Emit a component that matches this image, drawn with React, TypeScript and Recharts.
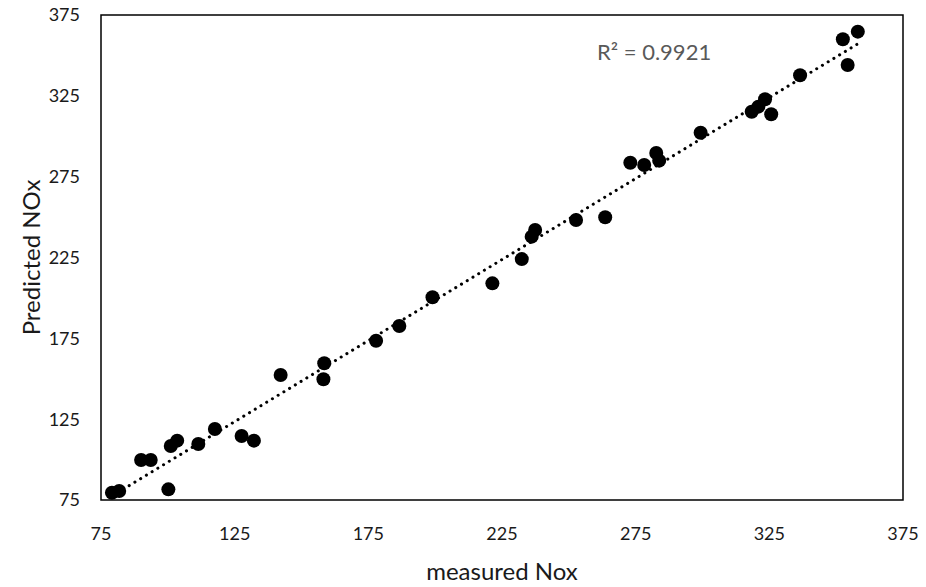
import { ScatterChart, Scatter, XAxis, YAxis, ReferenceArea, ReferenceLine } from "recharts"

const measured = [
  79.1, 81.8, 90.0, 93.6, 100.2, 101.1, 103.5, 111.4, 117.6, 127.6, 132.2, 142.2,
  158.2, 158.5, 177.9, 186.6, 199.0, 221.4, 232.4, 236.1, 237.4, 252.7, 263.6, 273.0,
  278.2, 282.7, 283.8, 299.3, 318.4, 320.9, 323.4, 325.7, 336.5, 352.5, 358.1, 354.3,
]
const predicted = [
  79.5, 80.6, 99.7, 99.7, 81.6, 108.4, 111.7, 109.6, 118.9, 114.6, 111.7, 152.3,
  149.7, 159.6, 173.5, 182.6, 200.4, 209.0, 224.0, 237.9, 242.0, 248.2, 249.9, 283.6,
  282.2, 289.6, 284.9, 302.2, 315.2, 318.3, 322.9, 313.6, 337.7, 360.0, 364.7, 344.1,
]
const ticks = [75, 125, 175, 225, 275, 325, 375]
const r2Label = "R² = 0.9921"

const points = measured.map((x, i) => ({ x, y: predicted[i] }))

// linear trendline (least squares)
const n = measured.length
const mx = measured.reduce((a, b) => a + b, 0) / n
const my = predicted.reduce((a, b) => a + b, 0) / n
let sxy = 0
let sxx = 0
measured.forEach((x, i) => {
  sxy += (x - mx) * (predicted[i] - my)
  sxx += (x - mx) * (x - mx)
})
const slope = sxy / sxx
const intercept = my - slope * mx
const xMin = Math.min(...measured)
const xMax = Math.max(...measured)

const font = "Lato, 'Open Sans', sans-serif"
const textColor = "#1a1a1a"
const tickStyle = { fill: textColor, fontSize: 18, fontFamily: font }

const Dot = (props: any) => <circle cx={props.cx} cy={props.cy} r={7} fill="#000" />

const XLabel = ({ viewBox }: any) => (
  <text
    x={viewBox.x + viewBox.width / 2}
    y={viewBox.y + 80}
    textAnchor="middle"
    fill={textColor}
    fontSize={24}
    fontFamily={font}
  >
    measured Nox
  </text>
)

const YLabel = ({ viewBox }: any) => {
  const cx = viewBox.x + 30
  const cy = viewBox.y + viewBox.height / 2
  return (
    <text
      x={cx}
      y={cy}
      transform={`rotate(-90 ${cx} ${cy})`}
      textAnchor="middle"
      dominantBaseline="central"
      fill={textColor}
      fontSize={24}
      fontFamily={font}
    >
      Predicted NOx
    </text>
  )
}

export default function App() {
  return (
    <div style={{ position: "absolute", left: 0, top: 0, width: 926, height: 587, background: "#fff" }}>
      <ScatterChart width={926} height={587} margin={{ top: 15, right: 23, bottom: 0, left: 0 }}>
        <XAxis
          type="number"
          dataKey="x"
          domain={[75, 375]}
          ticks={ticks}
          allowDataOverflow
          axisLine={false}
          tickLine={false}
          tickSize={0}
          tickMargin={27}
          height={87}
          tick={tickStyle}
          label={{ content: XLabel }}
        />
        <YAxis
          type="number"
          dataKey="y"
          domain={[75, 375]}
          ticks={ticks}
          allowDataOverflow
          axisLine={false}
          tickLine={false}
          tickSize={0}
          tickMargin={21}
          width={101}
          tick={tickStyle}
          label={{ content: YLabel }}
        />
        <ReferenceArea x1={75} x2={375} y1={75} y2={375} fill="none" stroke="#000" strokeWidth={1.5} />
        <ReferenceLine
          segment={[
            { x: xMin, y: slope * xMin + intercept },
            { x: xMax, y: slope * xMax + intercept },
          ]}
          stroke="#000"
          strokeWidth={3}
          strokeDasharray="0.1 6.6"
          strokeLinecap="round"
        />
        <Scatter data={points} shape={Dot} isAnimationActive={false} />
      </ScatterChart>
      <div
        style={{
          position: "absolute",
          left: 597,
          top: 38,
          fontFamily: font,
          fontSize: 22,
          color: "#595959",
          whiteSpace: "nowrap",
        }}
      >
        {r2Label}
      </div>
    </div>
  )
}
